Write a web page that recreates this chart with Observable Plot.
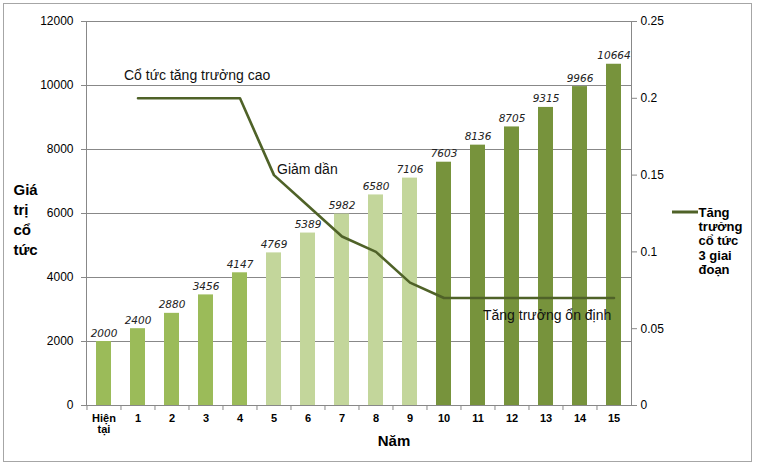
<!DOCTYPE html>
<html>
<head>
<meta charset="utf-8">
<script src="https://cdn.jsdelivr.net/npm/d3@7"></script>
<script src="https://cdn.jsdelivr.net/npm/@observablehq/plot@0.6"></script>
<style>
  html, body { margin: 0; padding: 0; background: #fff; }
  #wrap { position: relative; width: 757px; height: 466px; }
  #border { position: absolute; left: 3px; top: 3px; width: 747px; height: 457px; border: 1px solid #a6a6a6; pointer-events: none; }
  svg { display: block; }
</style>
</head>
<body>
<div id="wrap"><div id="border"></div></div>
<script>
// ---- data ----
const categories = ["Hiện tại", "1", "2", "3", "4", "5", "6", "7", "8", "9", "10", "11", "12", "13", "14", "15"];
const dividends = [2000, 2400, 2880, 3456, 4147, 4769, 5389, 5982, 6580, 7106, 7603, 8136, 8705, 9315, 9966, 10664];
const phases = ["cao", "cao", "cao", "cao", "cao", "giam", "giam", "giam", "giam", "giam", "ondinh", "ondinh", "ondinh", "ondinh", "ondinh", "ondinh"];
const phaseNames = ["cao", "giam", "ondinh"];
const phaseColors = ["#9BBB59", "#C3D69B", "#77933C"];

const growthCategories = ["1", "2", "3", "4", "5", "6", "7", "8", "9", "10", "11", "12", "13", "14", "15"];
const growthRates = [0.2, 0.2, 0.2, 0.2, 0.15, 0.13, 0.11, 0.1, 0.08, 0.07, 0.07, 0.07, 0.07, 0.07, 0.07];

const leftTicks = [0, 2000, 4000, 6000, 8000, 10000, 12000];
const rightTicks = [0, 0.05, 0.1, 0.15, 0.2, 0.25];

const annotationLabels = ["Cổ tức tăng trưởng cao", "Giảm dần", "Tăng trưởng ổn định"];
const annotationCategories = ["1", "5", "11"];
const annotationRates = [0.2148, 0.1536, 0.0586];
const annotationDx = [-14, 3, 5];

const yLabel = "Giá\ntrị\ncổ\ntức";
const xLabel = "Năm";
const legendLabel = "Tăng\ntrưởng\ncổ tức\n3 giai\nđoạn";

// ---- build ----
const k = leftTicks[leftTicks.length - 1] / rightTicks[rightTicks.length - 1]; // right->left scale
const bars = categories.map((c, i) => ({category: c, value: dividends[i], phase: phases[i]}));
const growth = growthCategories.map((c, i) => ({category: c, rate: growthRates[i]}));
const notes = annotationLabels.map((t, i) => ({label: t, category: annotationCategories[i], rate: annotationRates[i], dx: annotationDx[i]}));

const W = 757, H = 466, mL = 86, mR = 126, mT = 21, mB = 61;
const step = (W - mL - mR) / categories.length;
const gray = "#888888";
const lineColor = "#4F6228";

const chart = Plot.plot({
  width: W, height: H,
  marginLeft: mL, marginRight: mR, marginTop: mT, marginBottom: mB,
  style: {fontFamily: "'Liberation Sans', Arial, sans-serif", background: "transparent", color: "#000"},
  x: {domain: categories, paddingInner: 0.57, paddingOuter: 0.285, label: null},
  y: {domain: [0, 12000], label: null},
  color: {domain: phaseNames, range: phaseColors},
  marks: [
    Plot.ruleY(leftTicks, {y: d => d, stroke: gray, strokeWidth: 1}),
    Plot.frame({stroke: gray}),
    Plot.barY(bars, {x: "category", y: "value", fill: "phase"}),
    Plot.line(growth, {x: "category", y: d => d.rate * k, stroke: lineColor, strokeWidth: 2.6}),
    Plot.text(bars, {x: "category", y: "value", text: d => String(d.value), dy: -5, lineAnchor: "bottom",
      fontStyle: "italic", fontFamily: "'DejaVu Sans', Verdana, sans-serif", fontSize: 10.5, fill: "#222"}),
    Plot.axisY({ticks: leftTicks, tickSize: 5, tickPadding: 8, fontSize: 12, label: null, stroke: gray, tickFormat: d => String(d)}),
    Plot.axisY({anchor: "right", ticks: rightTicks.map(t => t * k), tickSize: 5, tickPadding: 4, fontSize: 12, label: null, stroke: gray,
      tickFormat: v => String(Math.round(v / k * 100) / 100)}),
    Plot.axisX({tickSize: 0, tickPadding: 9, fontSize: 11, fontWeight: "bold", label: null,
      tickFormat: d => d.replace(" ", "\n")}),
    Plot.axisX({tickSize: 5, text: null, stroke: gray, dx: -step / 2, label: null}),
    ...notes.map(n => Plot.text([n], {x: "category", y: d => d.rate * k, text: "label", textAnchor: "start", dx: n.dx,
      fontSize: 14, fill: "#111"})),
    Plot.text([yLabel], {text: d => d, frameAnchor: "left", dx: -73, dy: 5, textAnchor: "start", lineAnchor: "middle",
      fontSize: 15, fontWeight: "bold", lineHeight: 1.33}),
    Plot.text([xLabel], {text: d => d, frameAnchor: "bottom", dx: 35, dy: 40, fontSize: 15, fontWeight: "bold"}),
    Plot.text([legendLabel], {text: d => d, frameAnchor: "right", dx: 67, dy: -7, textAnchor: "start", lineAnchor: "top",
      fontSize: 13, fontWeight: "bold", lineHeight: 1.1})
  ]
});

// legend swatch
const svg = d3.select(chart);
svg.append("line")
  .attr("x1", W - mR + 41).attr("x2", W - mR + 67)
  .attr("y1", 212).attr("y2", 212)
  .attr("stroke", lineColor).attr("stroke-width", 3);

document.getElementById("wrap").prepend(chart);
</script>
</body>
</html>
